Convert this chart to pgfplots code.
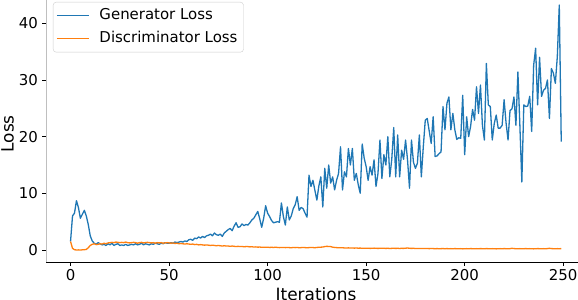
\documentclass[border=0pt]{standalone}
\usepackage{fontspec}
\setmainfont{DejaVu Sans}
\usepackage{pgfplots}
\pgfplotsset{compat=1.18}
\usepackage{pgfplotstable}
\definecolor{tabblue}{HTML}{1F77B4}
\definecolor{taborange}{HTML}{FF7F0E}

% Generator loss, iterations 0..249 (10 per line)
\pgfplotstableread[row sep=\\]{
y \\
1.5 \\ 6.0 \\ 6.5 \\ 8.7 \\ 7.5 \\ 5.6 \\ 6.3 \\ 7.0 \\ 6.0 \\ 4.5 \\
2.5 \\ 1.6 \\ 1.2 \\ 1.0 \\ 1.3 \\ 1.1 \\ 0.9 \\ 1.0 \\ 0.8 \\ 1.1 \\
0.9 \\ 1.2 \\ 0.8 \\ 1.0 \\ 1.1 \\ 0.8 \\ 0.9 \\ 0.8 \\ 1.0 \\ 0.8 \\
0.9 \\ 1.0 \\ 0.9 \\ 1.1 \\ 0.9 \\ 1.0 \\ 1.2 \\ 0.9 \\ 1.1 \\ 1.0 \\
0.9 \\ 1.1 \\ 1.0 \\ 1.2 \\ 1.1 \\ 1.0 \\ 1.2 \\ 1.1 \\ 1.3 \\ 1.2 \\
1.2 \\ 1.3 \\ 1.2 \\ 1.4 \\ 1.3 \\ 1.4 \\ 1.5 \\ 1.4 \\ 1.6 \\ 1.5 \\
1.8 \\ 1.9 \\ 1.7 \\ 2.1 \\ 2.0 \\ 2.3 \\ 2.1 \\ 2.4 \\ 2.2 \\ 2.5 \\
2.6 \\ 2.8 \\ 2.5 \\ 3.0 \\ 2.7 \\ 2.6 \\ 2.8 \\ 2.4 \\ 3.0 \\ 3.3 \\
3.6 \\ 3.8 \\ 3.4 \\ 4.2 \\ 4.8 \\ 4.0 \\ 4.1 \\ 4.6 \\ 4.3 \\ 4.5 \\
4.4 \\ 4.8 \\ 5.3 \\ 5.6 \\ 6.2 \\ 6.8 \\ 5.5 \\ 4.0 \\ 5.6 \\ 7.8 \\
6.5 \\ 5.9 \\ 5.2 \\ 4.8 \\ 4.9 \\ 5.0 \\ 4.9 \\ 8.3 \\ 5.9 \\ 4.4 \\
7.6 \\ 5.3 \\ 6.0 \\ 7.3 \\ 8.0 \\ 9.4 \\ 7.0 \\ 7.5 \\ 7.3 \\ 6.5 \\
5.8 \\ 13.2 \\ 11.2 \\ 12.3 \\ 10.5 \\ 8.8 \\ 11.3 \\ 12.9 \\ 7.6 \\ 14.4 \\
10.9 \\ 15.0 \\ 11.8 \\ 12.9 \\ 10.6 \\ 12.3 \\ 13.5 \\ 18.2 \\ 10.6 \\ 13.8 \\
12.9 \\ 17.9 \\ 15.0 \\ 17.9 \\ 12.3 \\ 13.5 \\ 11.5 \\ 10.0 \\ 18.7 \\ 16.2 \\
14.7 \\ 12.3 \\ 14.7 \\ 13.2 \\ 15.9 \\ 11.2 \\ 13.5 \\ 19.4 \\ 12.6 \\ 16.8 \\
15.0 \\ 20.0 \\ 12.9 \\ 16.0 \\ 21.6 \\ 12.9 \\ 20.3 \\ 12.9 \\ 17.6 \\ 16.0 \\
19.4 \\ 15.9 \\ 10.9 \\ 19.4 \\ 15.5 \\ 14.4 \\ 15.3 \\ 20.3 \\ 12.9 \\ 18.2 \\
22.9 \\ 23.2 \\ 21.0 \\ 18.8 \\ 23.5 \\ 16.5 \\ 16.6 \\ 17.0 \\ 17.3 \\ 25.3 \\
21.2 \\ 25.9 \\ 27.0 \\ 21.2 \\ 24.1 \\ 21.2 \\ 19.5 \\ 19.8 \\ 19.7 \\ 27.3 \\
16.8 \\ 23.5 \\ 20.0 \\ 21.8 \\ 24.8 \\ 22.9 \\ 28.8 \\ 24.1 \\ 29.1 \\ 22.0 \\
19.4 \\ 32.9 \\ 25.6 \\ 25.3 \\ 19.4 \\ 22.3 \\ 23.8 \\ 21.5 \\ 21.5 \\ 22.0 \\
26.5 \\ 22.4 \\ 19.4 \\ 24.6 \\ 24.9 \\ 27.0 \\ 22.0 \\ 31.4 \\ 22.0 \\ 12.0 \\
25.6 \\ 25.3 \\ 25.4 \\ 27.1 \\ 20.9 \\ 32.6 \\ 35.6 \\ 25.6 \\ 34.0 \\ 27.1 \\
28.2 \\ 28.5 \\ 30.0 \\ 23.2 \\ 32.0 \\ 31.2 \\ 29.4 \\ 34.1 \\ 43.2 \\ 19.1 \\
}\genloss

% Discriminator loss, iterations 0..249 (10 per line)
\pgfplotstableread[row sep=\\]{
y \\
1.5 \\ 0.3 \\ 0.05 \\ 0.0 \\ 0.02 \\ 0.0 \\ 0.03 \\ 0.05 \\ 0.1 \\ 0.4 \\
0.8 \\ 1.0 \\ 1.1 \\ 0.95 \\ 1.0 \\ 1.1 \\ 1.05 \\ 1.2 \\ 1.1 \\ 1.25 \\
1.3 \\ 1.35 \\ 1.3 \\ 1.4 \\ 1.35 \\ 1.3 \\ 1.35 \\ 1.3 \\ 1.4 \\ 1.3 \\
1.25 \\ 1.3 \\ 1.35 \\ 1.3 \\ 1.2 \\ 1.3 \\ 1.35 \\ 1.25 \\ 1.3 \\ 1.35 \\
1.3 \\ 1.25 \\ 1.3 \\ 1.2 \\ 1.3 \\ 1.25 \\ 1.3 \\ 1.2 \\ 1.25 \\ 1.3 \\
1.25 \\ 1.2 \\ 1.25 \\ 1.15 \\ 1.2 \\ 1.1 \\ 1.15 \\ 1.1 \\ 1.05 \\ 1.1 \\
1.05 \\ 1.0 \\ 1.05 \\ 0.95 \\ 1.0 \\ 0.9 \\ 0.95 \\ 0.9 \\ 0.85 \\ 0.9 \\
0.85 \\ 0.8 \\ 0.85 \\ 0.8 \\ 0.75 \\ 0.8 \\ 0.75 \\ 0.7 \\ 0.75 \\ 0.7 \\
0.7 \\ 0.65 \\ 0.7 \\ 0.65 \\ 0.6 \\ 0.65 \\ 0.6 \\ 0.62 \\ 0.58 \\ 0.6 \\
0.6 \\ 0.55 \\ 0.58 \\ 0.52 \\ 0.55 \\ 0.5 \\ 0.52 \\ 0.48 \\ 0.5 \\ 0.5 \\
0.5 \\ 0.45 \\ 0.48 \\ 0.45 \\ 0.5 \\ 0.45 \\ 0.42 \\ 0.45 \\ 0.44 \\ 0.42 \\
0.45 \\ 0.42 \\ 0.4 \\ 0.44 \\ 0.42 \\ 0.45 \\ 0.4 \\ 0.42 \\ 0.45 \\ 0.42 \\
0.4 \\ 0.42 \\ 0.45 \\ 0.43 \\ 0.4 \\ 0.45 \\ 0.48 \\ 0.5 \\ 0.52 \\ 0.6 \\
0.65 \\ 0.62 \\ 0.6 \\ 0.5 \\ 0.45 \\ 0.42 \\ 0.4 \\ 0.38 \\ 0.4 \\ 0.36 \\
0.35 \\ 0.38 \\ 0.34 \\ 0.36 \\ 0.33 \\ 0.35 \\ 0.32 \\ 0.34 \\ 0.3 \\ 0.32 \\
0.3 \\ 0.32 \\ 0.28 \\ 0.3 \\ 0.33 \\ 0.3 \\ 0.28 \\ 0.3 \\ 0.32 \\ 0.3 \\
0.28 \\ 0.3 \\ 0.27 \\ 0.29 \\ 0.3 \\ 0.28 \\ 0.3 \\ 0.27 \\ 0.3 \\ 0.28 \\
0.32 \\ 0.35 \\ 0.3 \\ 0.28 \\ 0.3 \\ 0.26 \\ 0.28 \\ 0.25 \\ 0.27 \\ 0.25 \\
0.25 \\ 0.27 \\ 0.24 \\ 0.26 \\ 0.25 \\ 0.23 \\ 0.25 \\ 0.22 \\ 0.24 \\ 0.25 \\
0.23 \\ 0.25 \\ 0.22 \\ 0.24 \\ 0.22 \\ 0.25 \\ 0.23 \\ 0.22 \\ 0.24 \\ 0.2 \\
0.22 \\ 0.24 \\ 0.22 \\ 0.25 \\ 0.23 \\ 0.22 \\ 0.24 \\ 0.22 \\ 0.25 \\ 0.23 \\
0.22 \\ 0.25 \\ 0.23 \\ 0.22 \\ 0.24 \\ 0.22 \\ 0.2 \\ 0.22 \\ 0.24 \\ 0.22 \\
0.25 \\ 0.23 \\ 0.22 \\ 0.24 \\ 0.3 \\ 0.25 \\ 0.23 \\ 0.22 \\ 0.24 \\ 0.22 \\
0.23 \\ 0.25 \\ 0.22 \\ 0.24 \\ 0.22 \\ 0.2 \\ 0.22 \\ 0.25 \\ 0.23 \\ 0.22 \\
0.24 \\ 0.22 \\ 0.25 \\ 0.3 \\ 0.25 \\ 0.23 \\ 0.22 \\ 0.24 \\ 0.22 \\ 0.25 \\
}\discloss

\begin{document}
\begin{tikzpicture}
\begin{axis}[
  scale only axis,
  width=532bp, height=262.3bp,
  xmin=-12.45, xmax=257.5,
  ymin=-2.17, ymax=44.1,
  axis x line*=bottom, axis y line*=left,
  x axis line style={black, line width=0.8bp},
  y axis line style={black!25, line width=0.8bp},
  xtick={0,50,100,150,200,250},
  ytick={0,10,20,30,40},
  tick align=outside,
  major tick length=3.5bp,
  minor tick num=0,
  tick style={black, line width=0.8bp},
  /pgf/number format/assume math mode=true,
  tick label style={font=\fontsize{15}{18}\selectfont},
  xticklabel style={inner sep=0pt, anchor=north, yshift=-3bp},
  yticklabel style={inner sep=0pt, anchor=east, xshift=-4.5bp},
  xlabel={Iterations},
  ylabel={Loss},
  label style={font=\fontsize{17}{20}\selectfont},
  xlabel style={at={(axis description cs:0.5075,-0.0976)}, anchor=north, inner sep=0pt},
  ylabel style={at={(axis description cs:-0.0724,0.49)}, anchor=center, rotate=0, inner sep=0pt},
  legend style={
    at={(axis description cs:0.01316,0.9924)}, anchor=north west,
    draw=black!20, rounded corners=3bp, fill=white,
    inner xsep=3bp, inner ysep=3.5bp,
    font=\fontsize{15}{18}\selectfont,
    column sep=7bp, row sep=3bp,
    nodes={inner sep=3bp, text height=11bp, text depth=3bp},
  },
  legend cell align=left,
  legend image code/.code={\draw[#1, line width=1.3bp] (0bp,0bp) -- (32bp,0bp);},
]
\addplot[tabblue, line width=1.3bp, line join=round] table[x expr=\coordindex, y=y] {\genloss};
\addlegendentry{Generator Loss}
\addplot[taborange, line width=1.3bp, line join=round] table[x expr=\coordindex, y=y] {\discloss};
\addlegendentry{Discriminator Loss}
\end{axis}
\pgfresetboundingbox
\path[use as bounding box] ([xshift=-46bp,yshift=-37.7bp]current axis.south west) rectangle (current axis.north east);
\end{tikzpicture}
\end{document}
